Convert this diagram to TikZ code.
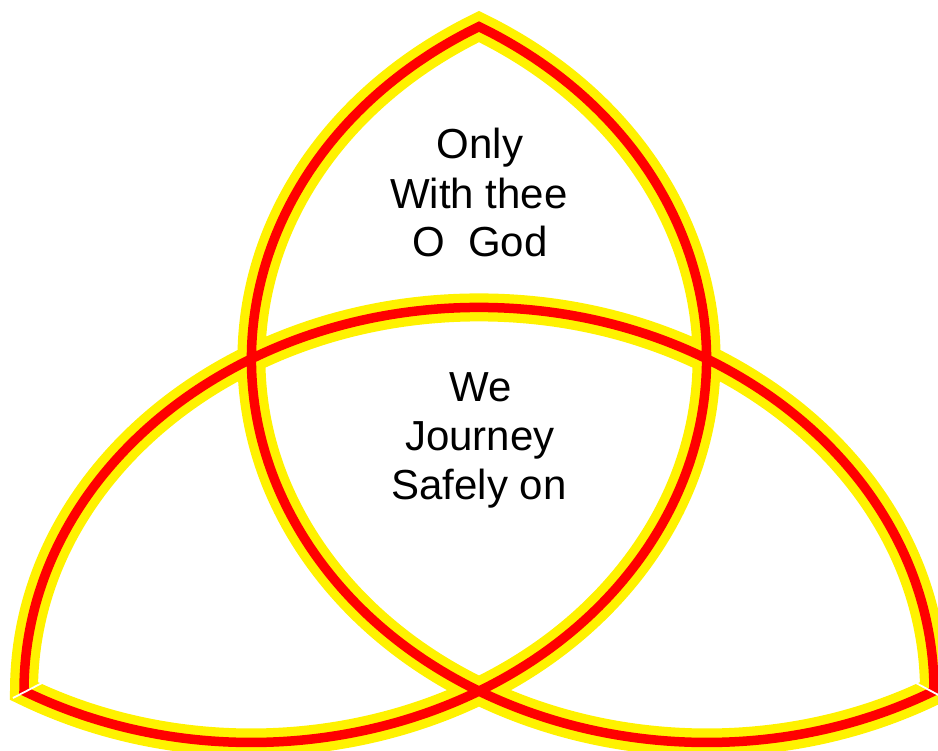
\documentclass[tikz,border=0pt]{standalone}
\usepackage{fontspec}
\setmainfont{Liberation Sans}
\begin{document}
\begin{tikzpicture}[x=1pt,y=-1pt,
  knot/.style={draw=red, line width=9.5pt, line join=miter,
    preaction={draw=yellow, line width=28pt, line join=miter}},
  lobe/.style={x radius=455, y radius=383.6},
  seam/.style={draw=white, line width=1.8pt},
  words/.style={font=\fontsize{42}{49}\selectfont, anchor=base, inner sep=0pt}]
\useasboundingbox (0,0) rectangle (938,751);
\coordinate (toptip) at (479,26.6);
\path[knot] (toptip)
  arc[lobe, start angle=240, end angle=60]
  arc[lobe, start angle=0, end angle=-180]
  arc[lobe, start angle=120, end angle=-60]
  -- cycle;
\path[seam] (13,698) -- (42,683);
\path[seam] (916,683) -- (944,698);
\node[words] (l1) at (480,159) {Only};
\node[words] (l2) at (479,209) {With thee};
\node[words] (l3) at (480,257) {O\ \ God};
\node[words] (l4) at (481,402) {We};
\node[words] (l5) at (480,451) {Journey};
\node[words] (l6) at (479,500) {Safely on};
\end{tikzpicture}
\end{document}
